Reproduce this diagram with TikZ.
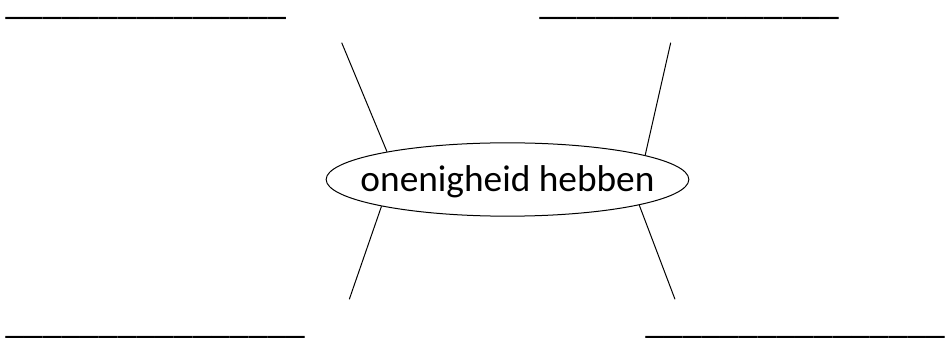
\documentclass[tikz,border=0pt]{standalone}
\usepackage{fontspec}
\setmainfont{Carlito}
\usetikzlibrary{shapes.geometric}

\begin{document}
\begin{tikzpicture}[x=.75pt,y=-.75pt,
    blank/.style={anchor=base west,inner sep=0pt,text height=0pt,text depth=3pt,
      font=\fontsize{28.2}{34}\selectfont},
    leg/.style={line width=.75pt}]
  \useasboundingbox (0,0) rectangle (947,338);
  % word in the middle
  \node[ellipse,draw,line width=.75pt,inner sep=0pt,minimum width=272pt,
    minimum height=55pt] (ring) at (507.5,179.5) {};
  \node[inner sep=0pt,text height=24pt,text depth=5.7pt,
    font=\fontsize{28}{34}\selectfont] (word) at (ring) {onenigheid hebben};
  % lines to write on
  \node[blank] (blankTL) at (5,14.5) {\_\_\_\_\_\_\_\_\_\_\_\_\_\_\_};
  \node[blank] (blankTR) at (539,14.5) {\_\_\_\_\_\_\_\_\_\_\_\_\_\_\_\_};
  \node[blank] (blankBL) at (5,333.5) {\_\_\_\_\_\_\_\_\_\_\_\_\_\_\_\_};
  \node[blank] (blankBR) at (645,333.5) {\_\_\_\_\_\_\_\_\_\_\_\_\_\_\_\_};
  % legs
  \coordinate (tl) at (341.7,42.7);
  \coordinate (tr) at (670.7,42.7);
  \coordinate (bl) at (349.3,299.3);
  \coordinate (br) at (675,299.3);
  \draw[leg] (ring.167.2) -- (tl);
  \draw[leg] (ring.10.9) -- (tr);
  \draw[leg] (ring.192.8) -- (bl);
  \draw[leg] (ring.349.9) -- (br);
\end{tikzpicture}
\end{document}
